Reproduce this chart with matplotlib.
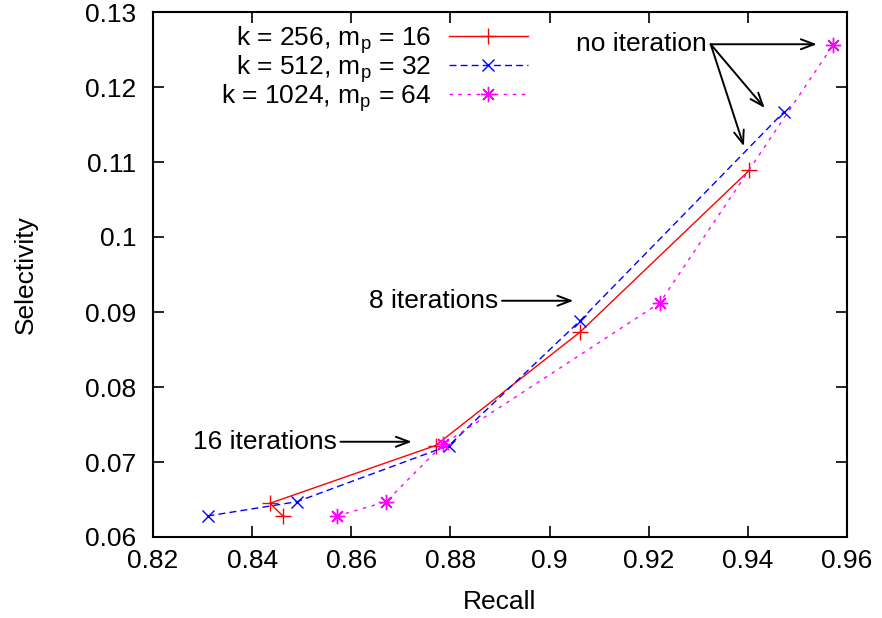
import matplotlib
matplotlib.use("Agg")
import matplotlib.pyplot as plt

plt.rcParams['font.family'] = ['Liberation Sans', 'DejaVu Sans']
plt.rcParams['mathtext.fontset'] = 'custom'
plt.rcParams['mathtext.rm'] = 'Liberation Sans'
plt.rcParams['mathtext.it'] = 'Liberation Sans'

# data
recall_256 = [0.8462, 0.8436, 0.8770, 0.9061, 0.9403]
select_256 = [0.0628, 0.0645, 0.0722, 0.0873, 0.1089]
recall_512 = [0.8310, 0.8490, 0.8797, 0.9061, 0.9473]
select_512 = [0.0628, 0.0647, 0.0722, 0.0888, 0.1167]
recall_1024 = [0.8571, 0.8670, 0.8786, 0.9222, 0.9572]
select_1024 = [0.0628, 0.0647, 0.0724, 0.0912, 0.1256]

labels = ['k = 256, m$_\\mathregular{p}$ = 16',
          'k = 512, m$_\\mathregular{p}$ = 32',
          'k = 1024, m$_\\mathregular{p}$ = 64']

xticks = [0.82, 0.84, 0.86, 0.88, 0.9, 0.92, 0.94, 0.96]
xticklabels = ['0.82', '0.84', '0.86', '0.88', '0.9', '0.92', '0.94', '0.96']
yticks = [0.06, 0.07, 0.08, 0.09, 0.1, 0.11, 0.12, 0.13]
yticklabels = ['0.06', '0.07', '0.08', '0.09', '0.1', '0.11', '0.12', '0.13']

# annotations
noiter_text = 'no iteration'
noiter_start = (0.9325, 0.1257)
noiter_targets = [(0.9539, 0.1257), (0.9434, 0.1172), (0.9392, 0.1121)]
it8_text = '8 iterations'
it8_start = (0.8904, 0.0915)
it8_target = (0.9048, 0.0915)
it16_text = '16 iterations'
it16_start = (0.8578, 0.0727)
it16_target = (0.8722, 0.0727)

FS = 19

fig = plt.figure(figsize=(8.82, 6.18), dpi=100)
ax = fig.add_axes([153/882, 1-537/618, (847-153)/882, (537-12)/618])

ax.plot(recall_256, select_256, color='#ff0000', lw=1.0, marker='+', ms=11, mew=1.0,
        label=labels[0])
ax.plot(recall_512, select_512, color='#0000ff', lw=1.0, marker='x', ms=9, mew=1.0,
        dashes=(5, 3), label=labels[1])
ax.plot(recall_1024, select_1024, color='#ff00ff', lw=1.0, marker=(8, 2, 0), ms=11, mew=1.0,
        dashes=(2.5, 4), label=labels[2])

ax.set_xlim(0.82, 0.96)
ax.set_ylim(0.06, 0.13)
ax.set_xticks(xticks)
ax.set_xticklabels(xticklabels)
ax.set_yticks(yticks)
ax.set_yticklabels(yticklabels)
ax.tick_params(direction='in', length=8, width=1.2, top=True, right=True,
               labelsize=FS, colors='black')
ax.tick_params(axis='x', pad=9)
ax.tick_params(axis='y', pad=12)
for s in ax.spines.values():
    s.set_linewidth(1.5)

ax.set_xlabel('Recall', fontsize=FS, labelpad=12)
ax.set_ylabel('Selectivity', fontsize=FS, labelpad=34)

leg = ax.legend(loc='upper right', bbox_to_anchor=((528-153)/694, 0.977),
                frameon=False, markerfirst=False, fontsize=FS,
                handlelength=3.0, handletextpad=0.65, labelspacing=-0.1,
                borderpad=0.0, borderaxespad=0.0)

arrow_kw = dict(arrowstyle='->,head_length=0.95,head_width=0.36', color='black', lw=1.4,
                shrinkA=0, shrinkB=0)

ax.text(noiter_start[0] - 0.0008, noiter_start[1], noiter_text, fontsize=FS,
        ha='right', va='center')
for t in noiter_targets:
    ax.annotate('', xy=t, xytext=noiter_start, arrowprops=arrow_kw)

ax.text(it8_start[0] - 0.0008, it8_start[1], it8_text, fontsize=FS, ha='right', va='center')
ax.annotate('', xy=it8_target, xytext=it8_start, arrowprops=arrow_kw)

ax.text(it16_start[0] - 0.0008, it16_start[1], it16_text, fontsize=FS, ha='right', va='center')
ax.annotate('', xy=it16_target, xytext=it16_start, arrowprops=arrow_kw)

fig.savefig('out.png', dpi=100)
